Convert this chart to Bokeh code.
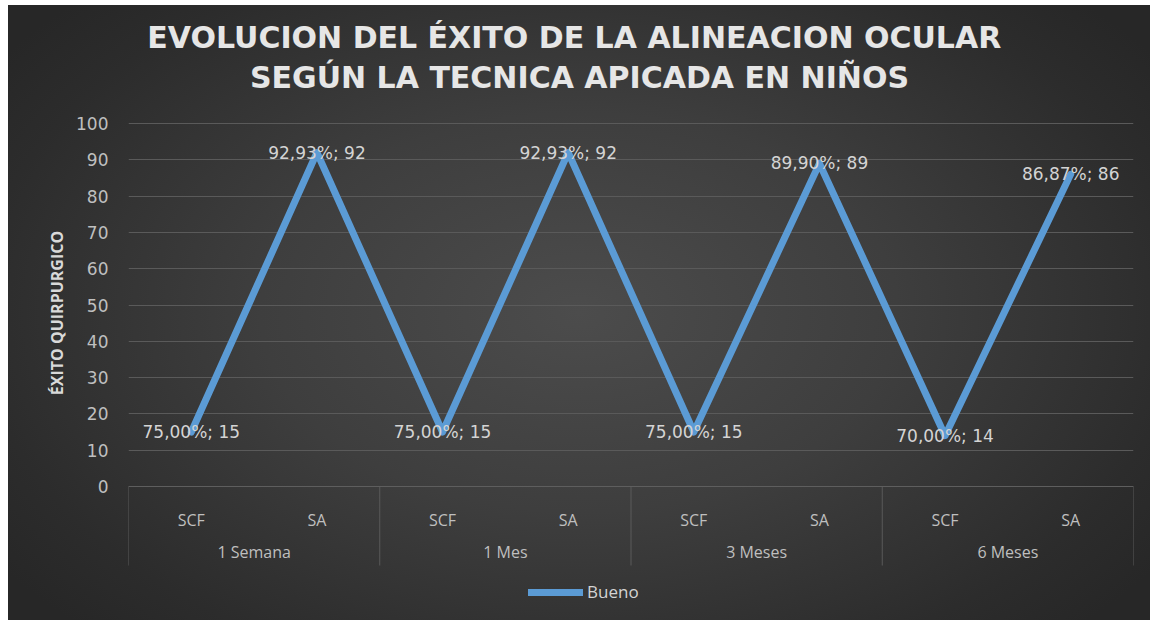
from bokeh.plotting import figure
from bokeh.models import (FactorRange, Range1d, FixedTicker, Label, ColumnDataSource)
from bokeh.embed import file_html
from bokeh.resources import INLINE
from bokeh.core.properties import value

# ---- data ----
title_lines = ["EVOLUCION DEL ÉXITO DE  LA ALINEACION OCULAR",
               "SEGÚN LA TECNICA APICADA EN NIÑOS"]
groups = ["1 Semana", "1 Mes", "3 Meses", "6 Meses"]
techniques = ["SCF", "SA"]
counts = [15, 92, 15, 92, 15, 89, 14, 86]
percents = [75.00, 92.93, 75.00, 92.93, 75.00, 89.90, 70.00, 86.87]
series_name = "Bueno"
y_label = "ÉXITO QUIRPURGICO"
y_ticks = [0, 10, 20, 30, 40, 50, 60, 70, 80, 90, 100]

factors = [(g, t) for g in groups for t in techniques]
labels = [f"{pc:.2f}".replace(".", ",") + "%; " + str(n) for pc, n in zip(percents, counts)]
src = ColumnDataSource(dict(x=factors, y=counts, label=labels))

# ---- layout constants (pixels) ----
W, H = 1142, 615
MB_LEFT, MB_RIGHT = 120, 17
top_px = 118             # room above the value band (title)
axis_px = 363            # height of the 0..100 value band
below_px = H - top_px - axis_px   # room under the value band (axis labels + legend)
y0, y1 = y_ticks[0], y_ticks[-1]
upp = (y1 - y0) / axis_px
y_bottom = y0 - below_px * upp
y_top = y1 + top_px * upp
frame_w = W - MB_LEFT - MB_RIGHT
x_units_per_px = len(factors) / frame_w

LINE_C = "#5b9bd5"
TXT_C = "#d4d4d4"
TICK_C = "#bfbfbf"
GRID_C = "#5a5a5a"

p = figure(width=W, height=H,
           x_range=FactorRange(factors=factors, factor_padding=0, group_padding=0, range_padding=0),
           y_range=Range1d(y_bottom, y_top),
           output_backend="svg", toolbar_location=None,
           min_border_top=0, min_border_bottom=0,
           min_border_left=MB_LEFT, min_border_right=MB_RIGHT)
p.margin = (5, 0, 0, 8)
p.border_fill_color = None
p.background_fill_color = None
p.outline_line_color = None
p.styles = {"background": "radial-gradient(ellipse 62% 72% at 50% 50%, #4c4c4c 0%, #3e3e3e 45%, #2c2c2c 85%, #272727 100%)"}

# grid
p.xgrid.grid_line_color = None
ticker = FixedTicker(ticks=y_ticks)
p.yaxis.ticker = ticker
p.ygrid.ticker = ticker
p.ygrid.grid_line_color = GRID_C
p.ygrid.grid_line_width = 1

# y axis
ya = p.yaxis[0]
ya.axis_line_color = None
ya.major_tick_line_color = None
ya.major_tick_out = 0
ya.major_tick_in = 0
ya.minor_tick_line_color = None
ya.major_label_standoff = 20
ya.major_label_text_color = TICK_C
ya.major_label_text_font = "DejaVu Sans"
ya.major_label_text_font_size = "17px"
ya.axis_label = y_label
ya.axis_label_text_color = "#d9d9d9"
ya.axis_label_text_font = "Open Sans"
ya.axis_label_text_font_style = "bold"
ya.axis_label_text_font_size = "16px"
ya.axis_label_standoff = 5

# x axis at value 0, inside the frame
xa = p.xaxis[0]
xa.fixed_location = y0
xa.axis_line_color = "#5e5e5e"
xa.axis_line_width = 1
xa.major_tick_line_color = None
xa.major_tick_out = 15
xa.major_tick_in = 0
xa.minor_tick_line_color = None
xa.major_label_standoff = 7
xa.major_label_text_color = TICK_C
xa.major_label_text_font = "Open Sans"
xa.major_label_text_font_size = "16px"
xa.group_text_color = TICK_C
xa.group_text_font = "Open Sans"
xa.group_text_font_size = "16px"
xa.group_text_font_style = "normal"
xa.separator_line_color = None

# group separators under the axis
sep_px = 79
sep_x = [gi * len(techniques) for gi in range(len(groups) + 1)]
p.segment(x0=sep_x, y0=[y0] * len(sep_x), x1=sep_x,
          y1=[y0 - sep_px * upp] * len(sep_x),
          line_color="#5a5a5a", line_width=1)

# series
p.line(x="x", y="y", source=src, line_color=LINE_C, line_width=7,
       line_join="round", line_cap="round", legend_label=series_name)
p.text(x="x", y="y", text="label", source=src, text_align="center",
       text_baseline="middle", text_color=TXT_C, text_font=value("DejaVu Sans"),
       text_font_size="17px")

# legend (inside frame, bottom band)
lg = p.legend[0]
lg.location = (400, 17)
lg.glyph_width = 55
lg.glyph_height = 20
lg.label_standoff = 4
lg.padding = 0
lg.margin = 0
lg.label_text_color = TXT_C
lg.label_text_font = "Open Sans"
lg.label_text_font_size = "17px"
lg.background_fill_alpha = 0
lg.border_line_color = None

# two-line title, centred on the chart area
title_cx = (W / 2 - MB_LEFT) * x_units_per_px
baselines_px = [86, 46]   # distance of each line above the 100 line
for line, bpx in zip(title_lines, baselines_px):
    p.add_layout(Label(x=title_cx, y=y1 + bpx * upp, text=line,
                       text_align="center", text_baseline="alphabetic",
                       text_color="#e6e6e6", text_font="DejaVu Sans",
                       text_font_style="bold", text_font_size="30px"))

open("out.html", "w").write(file_html(p, INLINE))
